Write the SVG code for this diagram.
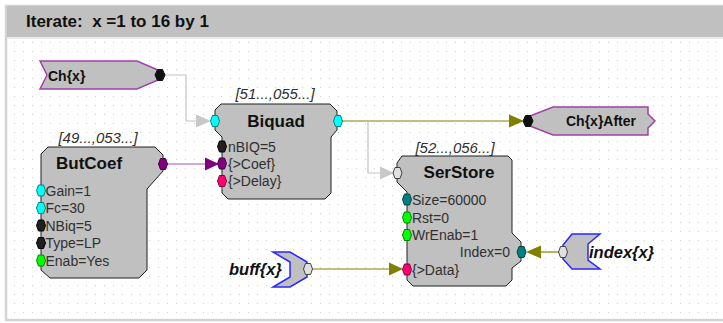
<svg xmlns="http://www.w3.org/2000/svg" width="723" height="323" viewBox="0 0 723 323">
<style>
.ttl{font-family:"Liberation Sans",Arial,sans-serif;font-size:17px;font-weight:bold;fill:#101010;white-space:pre}
.nm{font-family:"Liberation Sans",Arial,sans-serif;font-size:17px;font-weight:bold;fill:#101010}
.idx{font-family:"Liberation Sans",Arial,sans-serif;font-size:15px;font-style:italic;fill:#303030}
.prm{font-family:"Liberation Sans",Arial,sans-serif;font-size:14px;fill:#303030}
.io{font-family:"Liberation Sans",Arial,sans-serif;font-size:14px;font-weight:bold;fill:#101010}
.var{font-family:"Liberation Sans",Arial,sans-serif;font-size:16.5px;font-weight:bold;font-style:italic;fill:#101010}
.box{fill:#c0c0c0;stroke:#202020;stroke-width:1}
.iop{fill:#c0c0c0;stroke:#a040a8;stroke-width:1.5}
.vp{fill:#c0c0c0;stroke:#2828ff;stroke-width:1.5}
.wo{fill:none;stroke:#808000;stroke-width:1.2}
.wg{fill:none;stroke:#c4c4c4;stroke-width:1.2}
.wp{fill:none;stroke:#b050b8;stroke-width:1.2}
</style>
<defs>
<pattern id="grid" x="5" y="6" width="9" height="9" patternUnits="userSpaceOnUse">
<rect x="0" y="0" width="1" height="1" fill="#d0d0d0"/>
</pattern>
<polygon id="port" points="-4.5,0 -2.5,-5.5 2.5,-5.5 4.5,0 2.5,5.5 -2.5,5.5"/>
<polygon id="dot" points="-5,0 -2.5,-5.5 2.5,-5.5 5,0 2.5,5.5 -2.5,5.5"/>
</defs>
<rect x="0" y="0" width="723" height="323" fill="#ffffff"/>
<rect x="6" y="6" width="720" height="314" fill="#ffffff" stroke="#d4d4d4" stroke-width="2.5"/>
<rect x="8" y="40" width="715" height="278" fill="url(#grid)"/>
<rect x="7" y="6" width="716" height="31" fill="#c0c0c0"/>
<line x1="7" y1="38" x2="723" y2="38" stroke="#e4e4e4" stroke-width="1.5"/>
<text class="ttl" x="26" y="27">Iterate:  x =1 to 16 by 1</text>

<g id="connectors">
<polyline class="wg" points="164,75 186,75 186,121 198,121"/>
<polygon points="196,114.5 211,121 196,127.5" fill="#c8c8c8"/>
<line class="wp" x1="167" y1="164" x2="206" y2="164"/>
<polygon points="205,157.5 219,164 205,170.5" fill="#800080"/>
<line class="wo" x1="342" y1="121" x2="511" y2="121"/>
<polygon points="509,114.5 524,121 509,127.5" fill="#808000"/>
<polyline class="wg" points="368,121 368,173 382,173"/>
<polygon points="380,166.5 394,173 380,179.5" fill="#c8c8c8"/>
<line class="wo" x1="312" y1="269" x2="391" y2="269"/>
<polygon points="389,262.5 403,269 389,275.5" fill="#808000"/>
<line class="wo" x1="559" y1="252" x2="540" y2="252"/>
<polygon points="541,245.5 526,252 541,258.5" fill="#808000"/>
</g>

<g id="chx">
<path class="iop" d="M40,61 H137 L158,70 V80 L137,89 H40 L47,75 Z"/>
<use href="#dot" x="160" y="75" fill="#101010" stroke="#101010"/>
<text class="io" x="48" y="81">Ch{x}</text>
</g>

<g id="chxafter">
<path class="iop" d="M553,107 H648 V114 L655,121 L648,128 V135 H553 L530,126 V116 Z"/>
<use href="#dot" x="528" y="121" fill="#101010" stroke="#101010"/>
<text class="io" x="566" y="126">Ch{x}After</text>
</g>

<g id="biquad">
<text class="idx" x="275" y="99" text-anchor="middle">[51...,055...]</text>
<path class="box" d="M221,104 H330 L337,111 V130 L331,137 V193 L325,199 H228 L222,193 V137 L215,130 V110 Z"/>
<text class="nm" x="276" y="127" text-anchor="middle">Biquad</text>
<use href="#port" x="215" y="121" fill="#00ffff" stroke="#008080"/>
<use href="#port" x="338" y="121" fill="#00ffff" stroke="#008080"/>
<use href="#port" x="222" y="146.5" fill="#202020" stroke="#000000"/>
<use href="#port" x="222" y="163.5" fill="#800080" stroke="#400040"/>
<use href="#port" x="222" y="181" fill="#ff0070" stroke="#800040"/>
<text class="prm" x="228" y="151.5">nBIQ=5</text>
<text class="prm" x="228" y="168.5">{&gt;Coef}</text>
<text class="prm" x="228" y="186">{&gt;Delay}</text>
</g>

<g id="butcoef">
<text class="idx" x="98" y="143" text-anchor="middle">[49...,053...]</text>
<path class="box" d="M48,147 H155 L163,155 V171 L147,189 V270 L139,278 H50 L41,270 V154 Z"/>
<text class="nm" x="56" y="169">ButCoef</text>
<use href="#port" x="163" y="164" fill="#800080" stroke="#400040"/>
<use href="#port" x="41" y="190.5" fill="#00ffff" stroke="#008080"/>
<use href="#port" x="41" y="208" fill="#00ffff" stroke="#008080"/>
<use href="#port" x="41" y="225.5" fill="#202020" stroke="#000000"/>
<use href="#port" x="41" y="243" fill="#202020" stroke="#000000"/>
<use href="#port" x="41" y="260.5" fill="#00ff00" stroke="#008000"/>
<text class="prm" x="45.5" y="195.5">Gain=1</text>
<text class="prm" x="45.5" y="213">Fc=30</text>
<text class="prm" x="45.5" y="230.5">NBiq=5</text>
<text class="prm" x="45.5" y="248">Type=LP</text>
<text class="prm" x="45.5" y="265.5">Enab=Yes</text>
</g>

<g id="serstore">
<text class="idx" x="455" y="153" text-anchor="middle">[52...,056...]</text>
<path class="box" d="M402,156 H508 L512,160 V233 L521,242 V261 L512,268 V280 L506,286 H413 L407,280 V192 L397,182 V163 Z"/>
<text class="nm" x="459" y="178" text-anchor="middle">SerStore</text>
<use href="#port" x="397.5" y="173" fill="#e0e0e0" stroke="#404040"/>
<use href="#port" x="407" y="199.5" fill="#008080" stroke="#004040"/>
<use href="#port" x="407" y="217.5" fill="#00ff00" stroke="#008000"/>
<use href="#port" x="407" y="235" fill="#00ff00" stroke="#008000"/>
<use href="#port" x="407" y="269.5" fill="#ff0070" stroke="#800040"/>
<use href="#port" x="521.5" y="252" fill="#008080" stroke="#004040"/>
<text class="prm" x="412" y="204.5">Size=60000</text>
<text class="prm" x="412" y="222.5">Rst=0</text>
<text class="prm" x="412" y="240">WrEnab=1</text>
<text class="prm" x="510" y="257" text-anchor="end">Index=0</text>
<text class="prm" x="412" y="274.5">{&gt;Data}</text>
</g>

<g id="buff">
<path class="vp" d="M273,252 H290 L307,262 V277 L290,287 H273 L290,277 V262 Z"/>
<use href="#port" x="308" y="269" fill="#e0e0e0" stroke="#404040"/>
<text class="var" x="229" y="275">buff{x}</text>
</g>

<g id="index">
<path class="vp" d="M572,234 H600 L588,244 V260 L600,269 H572 L563,259 V245 Z"/>
<use href="#port" x="563" y="252" fill="#e0e0e0" stroke="#404040"/>
<text class="var" x="589" y="258">index{x}</text>
</g>
</svg>
